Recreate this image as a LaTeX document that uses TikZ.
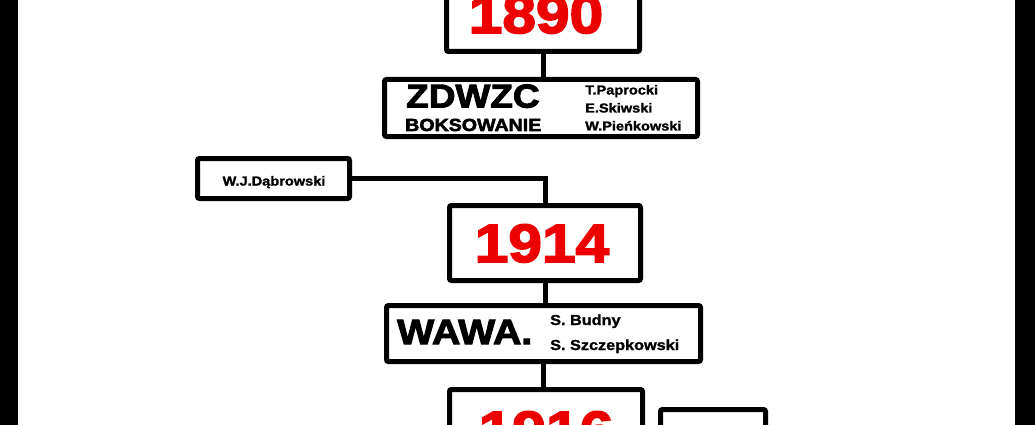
\documentclass[tikz,border=0pt]{standalone}
\usepackage{fontspec}
\usepackage{xcolor}
\usepackage{tikz}
\usetikzlibrary{positioning,calc}
\newfontfamily\heavyfont[FakeStretch=1.12,FakeBold=3]{Liberation Sans Bold}
\newfontfamily\namefont[FakeStretch=1.12,FakeBold=1.5]{Liberation Sans Bold}
\definecolor{yearred}{RGB}{237,0,0}
\newcommand{\yearsize}{\heavyfont\fontsize{54}{60}\selectfont\color{yearred}}
\newcommand{\namesize}{\namefont\fontsize{13}{16}\selectfont}
\tikzset{
	tbox/.style={draw=black,line width=5pt,rounded corners=2pt,fill=white,inner sep=0pt},
	link/.style={black,line width=5pt},
	year/.style={anchor=base,inner sep=0pt,font=\yearsize},
	who/.style={anchor=base west,inner sep=0pt,font=\namesize}
}

\begin{document}
\begin{tikzpicture}[x=1pt,y=-1pt]
	\useasboundingbox (0,0) rectangle (1035,425);
	\fill[white] (0,0) rectangle (1035,425);
	\fill[black] (0,0) rectangle (18,425);
	\fill[black] (1015,0) rectangle (1035,425);
	% boxes
	\node[tbox,minimum width=193pt,minimum height=75pt] (y1890) at (543,14) {};
	\node[tbox,minimum width=313pt,minimum height=57pt] (zdwzc) at (541,108) {};
	\node[tbox,minimum width=152pt,minimum height=40pt] (dab) at (273.5,178.5) {};
	\node[tbox,minimum width=191pt,minimum height=75pt] (y1914) at (545,243) {};
	\node[tbox,minimum width=314pt,minimum height=56pt] (wawa) at (543.5,333.5) {};
	\node[tbox,minimum width=193pt,minimum height=75pt] (y1916) at (546,427) {};
	\node[tbox,minimum width=105pt,minimum height=40pt] (haud) at (713,429.5) {};
	% connectors
	\draw[link] (y1890.south) -- (y1890.south |- zdwzc.north);
	\draw[link] (dab.east) -| (y1914.north);
	\draw[link] (y1914.south) -- (y1914.south |- wawa.north);
	\draw[link] (wawa.south) -- (wawa.south |- y1916.north);
	% texts
	\node[year] (t1890) at (536,33) {1890};
	\node[year] (t1914) at (542,262) {1914};
	\node[year] (t1916) at (546,449) {1916};
	\node[who,font=\heavyfont\fontsize{33}{36}\selectfont] (tzdwzc) at (406,107.5) {ZDWZC};
	\node[who,font=\heavyfont\fontsize{17.5}{20}\selectfont] (tboks) at (405,131) {BOKSOWANIE};
	\node[who] (tpap) at (585,94.5) {T.Paprocki};
	\node[who] (tski) at (585,112.5) {E.Skiwski};
	\node[who] (tpie) at (585,130.5) {W.Pieńkowski};
	\node[who,anchor=base] (tdab) at (274,185.5) {W.J.Dąbrowski};
	\node[who,font=\heavyfont\fontsize{35}{38}\selectfont] (twawa) at (397,344) {WAWA.};
	\node[who,font=\namefont\fontsize{14.5}{17}\selectfont] (tbud) at (550,325) {S. Budny};
	\node[who,font=\namefont\fontsize{14.5}{17}\selectfont] (tszcz) at (550,350) {S. Szczepkowski};
\end{tikzpicture}
\end{document}
